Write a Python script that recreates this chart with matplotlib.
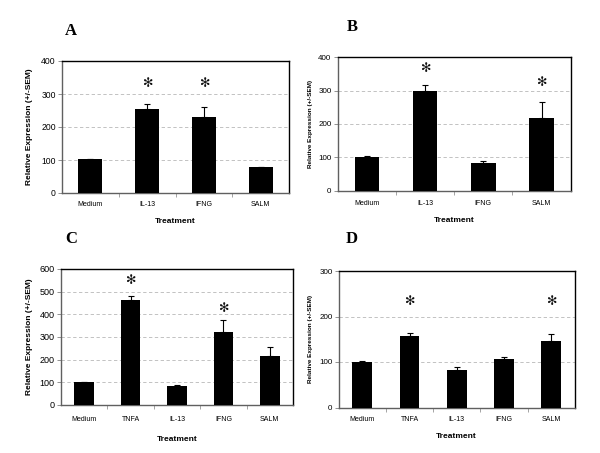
import matplotlib
matplotlib.use("Agg")
import matplotlib.pyplot as plt
import numpy as np

plt.rcParams['font.family'] = ['Liberation Sans', 'DejaVu Sans']

# Panel A
cats_a = ["Medium", "IL-13", "IFNG", "SALM"]
vals_a = [102, 254, 229, 78]
err_a = [0, 15, 31, 1]
sig_a = [False, True, True, False]
yticks_a = [0, 100, 200, 300, 400]

# Panel B
cats_b = ["Medium", "IL-13", "IFNG", "SALM"]
vals_b = [101, 299, 84, 217]
err_b = [4, 17, 4, 49]
sig_b = [False, True, False, True]
yticks_b = [0, 100, 200, 300, 400]

# Panel C
cats_c = ["Medium", "TNFA", "IL-13", "IFNG", "SALM"]
vals_c = [101, 463, 86, 322, 214]
err_c = [0, 20, 3, 53, 41]
sig_c = [False, True, False, True, False]
yticks_c = [0, 100, 200, 300, 400, 500, 600]

# Panel D
cats_d = ["Medium", "TNFA", "IL-13", "IFNG", "SALM"]
vals_d = [100, 157, 82, 107, 147]
err_d = [2, 6, 8, 3, 15]
sig_d = [False, True, False, False, True]
yticks_d = [0, 100, 200, 300]

ylabel = "Relative Expression (+/-SEM)"
xlabel = "Treatment"

W, H = 600, 453
fig = plt.figure(figsize=(6, 4.53), dpi=100)

def rect(x0, x1, y0, y1):
    return [x0 / W, 1 - y1 / H, (x1 - x0) / W, (y1 - y0) / H]

panels = [
    dict(letter="A", rect=rect(62, 289, 61, 193), cats=cats_a, vals=vals_a, err=err_a,
         sig=sig_a, yt=yticks_a, star_y=333, lab=(65, 31), ylx=33, ytfs=6.2, ylfs=6.0,
         xtpad=6, xlpad=7, lbl_letter_x=71),
    dict(letter="B", rect=rect(337.7, 570.7, 57.3, 190.7), cats=cats_b, vals=vals_b, err=err_b,
         sig=sig_b, yt=yticks_b, star_y=[None, 365, None, 324], lab=(346, 27), ylx=313, ytfs=5.8, ylfs=4.6,
         xtpad=7, xlpad=7, lbl_letter_x=352),
    dict(letter="C", rect=rect(61, 293, 269, 405), cats=cats_c, vals=vals_c, err=err_c,
         sig=sig_c, yt=yticks_c, star_y=[None, 548, None, 425, None], lab=(65, 239), ylx=33, ytfs=6.5, ylfs=6.0,
         xtpad=8, xlpad=9, lbl_letter_x=71),
    dict(letter="D", rect=rect(338.7, 574.7, 271, 407.5), cats=cats_d, vals=vals_d, err=err_d,
         sig=sig_d, yt=yticks_d, star_y=232, lab=(346, 239), ylx=313, ytfs=5.8, ylfs=4.6,
         xtpad=6, xlpad=7, lbl_letter_x=352),
]

for p in panels:
    ax = fig.add_axes(p["rect"])
    n = len(p["cats"])
    x = np.arange(n)
    ax.bar(x, p["vals"], width=0.42, color="black", zorder=3)
    ax.errorbar(x, p["vals"], yerr=[np.zeros(n), p["err"]], fmt="none",
                ecolor="black", elinewidth=0.8, capsize=2.5, capthick=0.8, zorder=4)
    sy = p["star_y"]
    for i in range(n):
        if p["sig"][i]:
            yy = sy[i] if isinstance(sy, list) else sy
            ax.text(x[i], yy, "\u273B", ha="center", va="center", fontsize=9,
                    family="DejaVu Sans", color="#111111", zorder=5)
    ax.set_xlim(-0.5, n - 0.5)
    ax.set_ylim(p["yt"][0], p["yt"][-1])
    ax.set_yticks(p["yt"])
    ax.set_xticks(x)
    ax.set_xticklabels(p["cats"], fontsize=5.0)
    ax.set_xticks(np.arange(n - 1) + 0.5, minor=True)
    ax.tick_params(axis="x", which="major", length=0, pad=p["xtpad"])
    ax.tick_params(axis="x", which="minor", length=3, width=0.5, color="#808080", direction="out")
    ax.tick_params(axis="y", which="major", length=3, width=0.6, labelsize=p["ytfs"], pad=1.5,
                   color="#808080")
    for yv in p["yt"][1:-1]:
        ax.axhline(yv, color="#b8b8b8", linestyle=(0, (4, 3)), linewidth=0.6, zorder=1)
    for s in ["top", "right"]:
        ax.spines[s].set_color("black")
        ax.spines[s].set_linewidth(1.0)
    for s in ["left", "bottom"]:
        ax.spines[s].set_color("#606060")
        ax.spines[s].set_linewidth(1.0)
    ax.set_xlabel(xlabel, fontsize=6.0, fontweight="bold", labelpad=p["xlpad"])
    ax.set_ylabel(ylabel, fontsize=p["ylfs"], fontweight="bold")
    bb = p["rect"]
    ax.yaxis.set_label_coords((p["ylx"] / W - bb[0]) / bb[2], 0.5)
    fig.text(p["lbl_letter_x"] / W, 1 - p["lab"][1] / H, p["letter"], fontsize=12,
             fontweight="bold", family="Liberation Serif", ha="center", va="center")

fig.savefig("out.png", dpi=100)
